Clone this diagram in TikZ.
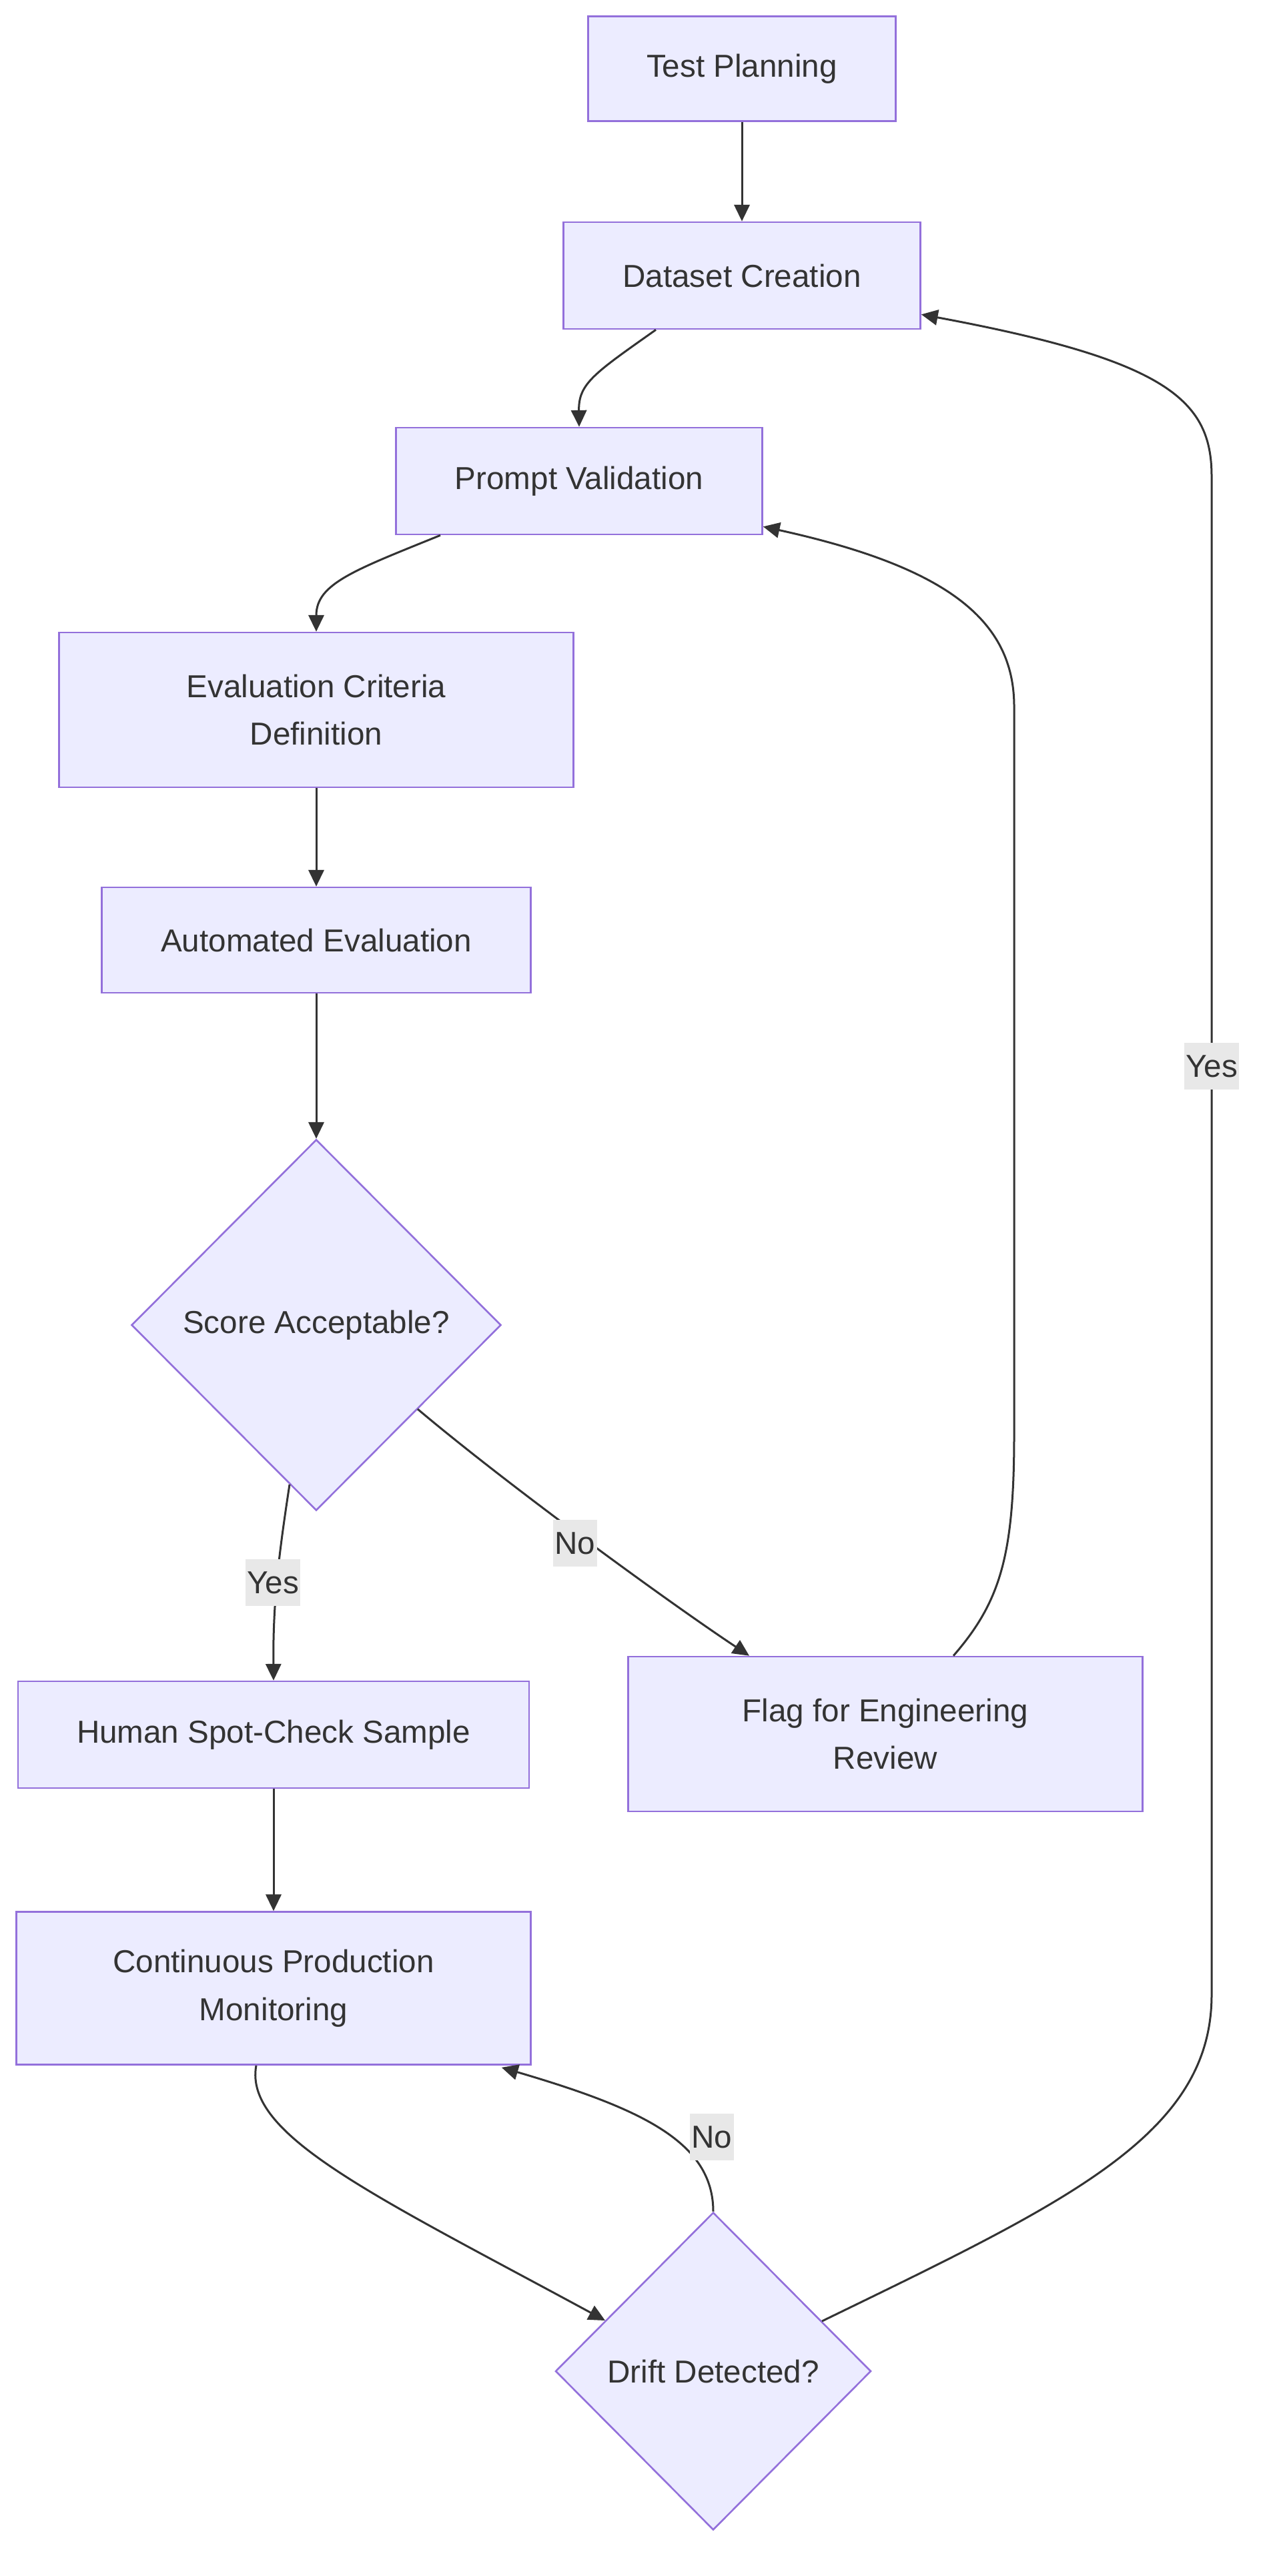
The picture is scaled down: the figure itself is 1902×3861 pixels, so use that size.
\documentclass[tikz,border=0pt]{standalone}
\usepackage{fontspec}
\setmainfont{Liberation Sans}
\usetikzlibrary{arrows.meta,shapes.geometric,calc}
\definecolor{nodefill}{HTML}{ECECFF}
\definecolor{nodeline}{HTML}{9370DB}
\definecolor{edgecol}{HTML}{333333}
\definecolor{lblfill}{HTML}{E8E8E8}
\tikzset{
  box/.style={draw=nodeline, fill=nodefill, line width=0.65pt, inner sep=0pt, align=center, text=edgecol, font=\fontsize{11.9}{17.9}\selectfont},
  dia/.style={diamond, draw=nodeline, fill=nodefill, line width=0.65pt, inner sep=0pt, align=center, text=edgecol, font=\fontsize{11.9}{17.9}\selectfont},
  conn/.style={draw=edgecol, line width=0.75pt, -{Triangle[length=6.2pt,width=5.8pt]}},
  lbl/.style={fill=lblfill, inner xsep=0.6pt, inner ysep=0pt, minimum height=17.5pt, text=edgecol, font=\fontsize{11.9}{14}\selectfont}
}
\begin{document}
\begin{tikzpicture}[x=0.25pt,y=-0.25pt]
\useasboundingbox[fill=white] (0,0) rectangle (1902,3861);
% nodes
\node[box, minimum width=115.25pt, minimum height=39.25pt] (tp) at (1112,103) {Test Planning};
\node[box, minimum width=133.75pt, minimum height=40pt] (dc) at (1112,413) {Dataset Creation};
\node[box, minimum width=137.25pt, minimum height=40pt] (pv) at (868,721) {Prompt Validation};
\node[box, minimum width=192.75pt, minimum height=58pt] (ecd) at (474,1064) {Evaluation Criteria\\Definition};
\node[box, minimum width=160.75pt, minimum height=39.5pt] (ae) at (474,1409) {Automated Evaluation};
\node[dia, minimum width=138.5pt, minimum height=139pt] (sa) at (474,1986) {Score Acceptable?};
\node[box, minimum width=191.5pt, minimum height=40pt] (hs) at (410,2600) {Human Spot-Check Sample};
\node[box, minimum width=192.75pt, minimum height=58pt] (fe) at (1327,2599) {Flag for Engineering\\Review};
\node[box, minimum width=192.75pt, minimum height=57.25pt] (cpm) at (410,2980) {Continuous Production\\Monitoring};
\node[dia, minimum width=118.25pt, minimum height=119pt] (dd) at (1069,3554) {Drift Detected?};
% anchor coordinates on node borders
\coordinate (dcA) at ($(dc.south)+(-129,0)$);
\coordinate (pvA) at ($(pv.south)+(-208,0)$);
\coordinate (saY) at (434,2225);
\coordinate (saN) at (626,2112);
\coordinate (feN) at ($(fe.north)+(-204,0)$);
\coordinate (feU) at ($(fe.north)+(102,0)$);
\coordinate (pvR) at ($(pv.south east)+(0,-13)$);
\coordinate (cpmD) at ($(cpm.south)+(-26,0)$);
\coordinate (cpmR) at ($(cpm.south east)+(-45,3)$);
\coordinate (ddL) at (907,3478);
\coordinate (ddR) at (1232,3479);
\coordinate (dcR) at ($(dc.south east)+(0,-23)$);
% edges
\draw[conn] (tp) -- (dc);
\draw[conn] (dcA) .. controls (890,560) and (867,575) .. (pv.north);
\draw[conn] (pvA) .. controls (530,855) and (474,875) .. (ecd.north);
\draw[conn] (ecd) -- (ae);
\draw[conn] (ae) -- (sa.north);
\draw[conn] (saY) .. controls (418,2330) and (409,2400) .. (hs.north);
\draw[conn] (saN) .. controls (760,2225) and (1000,2400) .. (feN);
\draw[conn] (feU) .. controls (1500,2400) and (1520,2330) .. (1520,2150) -- (1520,1059) .. controls (1520,930) and (1420,850) .. (pvR);
\draw[conn] (hs) -- (cpm);
\draw[conn] (cpmD) .. controls (365,3200) and (560,3290) .. (ddL);
\draw[conn] (dd.north) .. controls (1069,3210) and (960,3160) .. (cpmR);
\draw[conn] (ddR) .. controls (1600,3300) and (1816,3200) .. (1816,2990) -- (1816,714) .. controls (1816,600) and (1750,540) .. (dcR);
% labels
\node[lbl] (l1) at (409,2372) {Yes};
\node[lbl] (l2) at (862,2313) {No};
\node[lbl] (l3) at (1067,3203) {No};
\node[lbl] (l4) at (1816,1598) {Yes};
\end{tikzpicture}
\end{document}
